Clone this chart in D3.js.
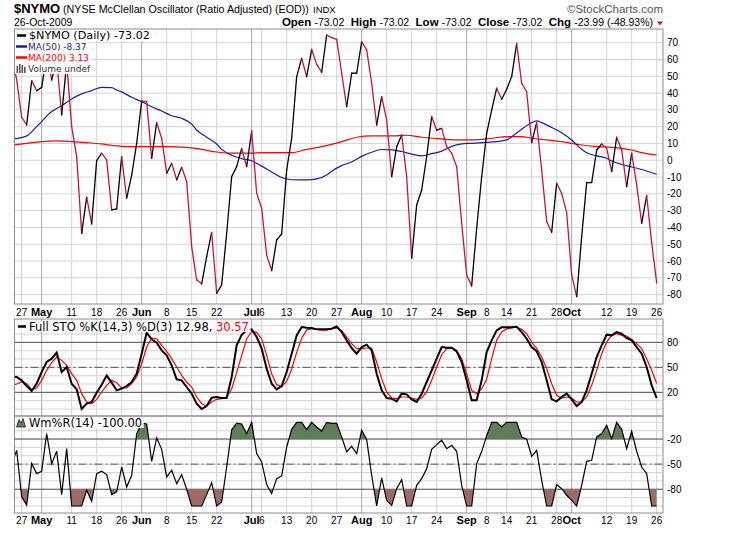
<!DOCTYPE html>
<html>
<head>
<meta charset="utf-8">
<script src="https://cdn.jsdelivr.net/npm/d3@7/dist/d3.min.js"></script>
<style>
body { margin: 0; background: #fff; }
text { font-family: "Liberation Sans", Arial, sans-serif; }
</style>
</head>
<body>
<div id="chart"></div>
<script>
// trading-day index of the first value (0 = 27 Apr 2009)
var firstDay = -2;

var nymo = [62, 48, 25.6, 21, 47.4, 41.4, 43.4, 62, 47.8, 60, 27, 58, 20, 2.1, -43.5, -22, -37.9, -0.2, 4.2, 0.2,
    -29.6, -29, 2.2, -22.6, -8.8, 10.1, 35.3, 34.9, 1.2, 22.4, 13.1, -7.7, -1.8, -11.7, -4.2, -12.7, -51.4, -71.2, -73.6, -57.4,
    -42.9, -79.2, -74.2, -43.5, -9.7, -3.8, 7, -3.8, 17.4, -19.7, -28.6, -56.4, -65.7, -47.4, -43.9, -5.8, 13.1, 49.8, 60.7, 49.8,
    66, 57.1, 52.4, 74.6, 73, 72, 51.8, 31.9, 51.8, 51.8, 70.6, 65.7, 45.8, 21, 37.9, 24, -9.8, 8.1, 15.1, -9.8,
    -58.3, -26.6, -17.7, 2.1, 26, 18, 19, 8.1, 4.2, -3.8, -37.5, -68.3, -74.8, -40.5, -9.8, 16, 29.9, 42.9, 36.3, 42.3,
    49.8, 69.6, 45.8, 40.8, 10.5, 22.4, -5.8, -36.5, -42.9, -13.7, -19.7, -31.2, -68.3, -81.2, -45.5, -13.3, -13.3, 6.1, 9.7, 7.1,
    -6.8, 13.7, 6.1, -15.7, 4.2, -14.7, -37.5, -21, -49.03, -73.02];

var ma50Day = [-2, 1, 3, 6, 8, 10, 12, 14, 16, 18, 19, 20, 22, 24, 26, 28, 30, 32, 34, 35, 37, 39, 40, 42, 44, 46, 48, 50, 52, 54,
    57, 59, 61, 62, 64, 66, 68, 70, 72, 74, 76, 78, 80, 82, 84, 86, 88, 90, 93, 95, 97, 98, 100, 102, 103, 104, 106, 108, 110, 112,
    113, 115, 117, 118, 120, 122, 124, 127];
var ma50 = [12.5, 14.5, 20, 29, 32.5, 36.5, 39.5, 41.5, 43.4, 43.2, 41.8, 40.7, 37.5, 34.9, 31.9, 29.3, 26.5, 25, 21.5, 18,
    13.7, 9.7, 6.5, 3, 1, -0.3, -3.5, -7, -10.3, -11.6, -11.7, -11.1, -8.8, -6.5, -3.2, -1, 2.3, 4.8, 6.4, 6.2,
    5.2, 3.7, 2.6, 3.9, 5.4, 8.3, 9.7, 10.1, 10.7, 11.1, 12.1, 14, 18.5, 22.3, 23.4, 22.4, 19.5, 16.4, 12.1, 6.5,
    4.5, 2.6, 1.2, -0.4, -2.5, -4, -5.5, -8.37];

var ma200Day = [-2, 1, 4, 7, 10, 13, 16, 18, 22, 26, 29, 33, 36, 39, 42, 46, 48, 50, 54, 57, 60, 64, 67, 70, 74, 77, 80, 84, 87, 90,
    94, 97, 100, 102, 105, 108, 112, 115, 118, 122, 124, 127];
var ma200 = [9, 10.1, 11.1, 11.5, 11.1, 10.5, 9.7, 8.9, 8.1, 8.1, 8.1, 7.7, 6.5, 4.9, 4.2, 4.2, 4.6, 4.5, 4.5, 6.5,
    8.1, 11.1, 13.7, 14.5, 14.5, 14.9, 13.7, 12.7, 12.1, 12.1, 13.1, 14.1, 14.1, 13.1, 12.1, 11.1, 9.1, 8.1, 7.7, 6.1,
    4.5, 3.13];

var stoK = [39, 38.4, 34.4, 27.6, 21.6, 30.4, 44.4, 56.4, 60.4, 67.6, 44.4, 50.4, 30.4, 23.6, 0, 6.4, 8.4, 19.6, 29.2, 40.4,
    31.6, 22.4, 24.4, 27.6, 32.4, 42.4, 66.4, 91.6, 83.6, 79.6, 70.4, 64.4, 52.4, 35.6, 34.4, 26.4, 18.4, 6.4, 0, 3.6,
    13.6, 14.4, 13.2, 13.2, 38.4, 76.4, 89, 94.4, 95.6, 86.4, 72.4, 48.4, 30.4, 23.6, 27.6, 44.4, 66.4, 88.4, 98.4, 97.6,
    97.2, 95.6, 95.6, 95.6, 96.4, 99.2, 92.4, 82.4, 73.2, 66.4, 74.4, 77.2, 70.4, 42.4, 22.4, 13.2, 12.4, 9.2, 18.4, 17.6,
    11.6, 8.4, 18.4, 32.4, 46.4, 60.4, 74.4, 73.6, 73.6, 69.2, 56.4, 34.4, 10.4, 10.4, 34.4, 68.4, 82.4, 94.4, 98, 98,
    98, 98.8, 92.4, 84.4, 74.4, 69.2, 56.4, 34.4, 11.6, 9.2, 14.4, 18.4, 11.6, 3.6, 8.4, 22.4, 42.4, 62.4, 76.4, 89.2,
    88.4, 92.4, 90.4, 85.2, 82.4, 74.4, 66.4, 50.4, 28.4, 12.98];

var stoD = [28, 30, 32.4, 30.4, 23.6, 25.2, 34.4, 46.4, 55.6, 62.4, 58.4, 52.4, 42.4, 34.4, 18.4, 8.4, 6.4, 11.6, 20.4, 28.4,
    34.4, 31.6, 25.2, 25.2, 30.4, 38.4, 54.4, 74.4, 85.2, 84.4, 76.4, 69.2, 60.4, 50.4, 40.4, 32.4, 26.4, 14.4, 6.4, 3.6,
    8.4, 11.6, 12.4, 14.4, 24, 44, 64, 84, 93, 92, 84.4, 64.4, 42.4, 29.2, 27, 33, 48, 68, 85, 94.7,
    96.4, 95.6, 94.8, 94.8, 96.4, 97.2, 94.4, 86.4, 78.4, 72.4, 72.4, 73.2, 73.2, 56.4, 36.4, 20.4, 13.2, 12.4, 14.4, 14.4,
    13.2, 11.6, 13.2, 20.4, 34.4, 50.4, 65.2, 72.4, 73.6, 70.4, 60.4, 42.4, 22.4, 18.4, 24, 36, 60.4, 82.4, 92.4, 96.4,
    97.2, 98.4, 95.6, 90.4, 80.4, 72.4, 62.4, 48.4, 30.4, 16.4, 13.2, 14.4, 13.2, 8.4, 8.4, 14.4, 28.4, 46.4, 66.4, 80.4,
    88.4, 90.4, 88.4, 87.6, 83.6, 78.4, 72.4, 60.4, 46.4, 30.57];

var willR = [-50, -33.5, -89, -99, -49.4, -61.3, -58.5, -13.5, -49.4, -34.6, -86.4, -31.5, -100, -100, -100, -81.2, -94.4, -61.3, -58.5, -62.5,
    -86.4, -83.2, -53.4, -77.3, -63.3, -14, -1, -2, -46.6, -18.7, -32.3, -65.3, -57.3, -73.3, -62.5, -80, -100, -100, -100, -86.4,
    -72.1, -100, -95.2, -53.4, -9, -1, -2, -13.5, 0, -37.4, -47.4, -74.5, -85.2, -67.3, -64.1, -29.5, -8.4, 0, 0, -8.8,
    0, -5.6, -10.4, 0, -1.2, -1.2, -17.5, -35.4, -28.7, -37.4, -9.6, -20.7, -63.3, -100, -66.5, -93.2, -99.2, -79.3, -68.5, -100,
    -100, -75.3, -67.3, -55.4, -32.3, -26.7, -21.5, -31.5, -27.5, -34.6, -75.3, -100, -100, -49.4, -35, -16, 0, 0, -5.6, 0,
    0, 0, -17.5, -20.3, -40.6, -33.5, -69.3, -100, -100, -74.5, -79.3, -87.2, -93.2, -100, -75.3, -46.6, -45.4, -17.5, -13.5, -3.6,
    -19.5, 0, -8.4, -31.5, -10.8, -34.6, -53.4, -61.3, -100, -100];

var tickDay = [0, 4, 10, 15, 20, 24, 29, 34, 39, 46, 48, 53, 58, 63, 68, 73, 78, 83, 89, 93, 97, 102, 107, 110, 117, 122, 127];
var tickText = ['27', 'May', '11', '18', '26', 'Jun', '8', '15', '22', 'Jul', '6', '13', '20', '27', 'Aug', '10', '17', '24',
    'Sep', '8', '14', '21', '28', 'Oct', '12', '19', '26'];
var monthNames = ['May', 'Jun', 'Jul', 'Aug', 'Sep', 'Oct'];

var priceTicks = d3.range(-80, 71, 10);
var stoTicks = [80, 50, 20];
var willTicks = [-20, -50, -80];

var svgContainer, x;
var left = 14.5, right = 663;
var upColor = '#000000', downColor = '#cc1040';

function setupSVG () {
    svgContainer = d3.select('#chart').append('svg')
        .attr('width', 738)
        .attr('height', 537);
    x = d3.scaleLinear()
        .domain([tickDay[0], tickDay[tickDay.length - 1]])
        .range([21.67, 656.67]);
}

function addClip (id, top, bottom) {
    svgContainer.append('clipPath').attr('id', id)
        .append('rect')
        .attr('x', left).attr('y', top)
        .attr('width', right - left).attr('height', bottom - top);
}

function drawGrid (top, bottom, y, gridVals) {
    var g = svgContainer.append('g');
    g.selectAll('line.h').data(gridVals).enter().append('line')
        .attr('x1', left).attr('x2', right)
        .attr('y1', function (d) { return y(d); })
        .attr('y2', function (d) { return y(d); })
        .attr('stroke', '#d4d4d4')
        .attr('stroke-width', 1);
    g.selectAll('line.v').data(tickDay).enter().append('line')
        .attr('x1', function (d) { return x(d); })
        .attr('x2', function (d) { return x(d); })
        .attr('y1', top).attr('y2', bottom)
        .attr('stroke', function (d, i) { return monthNames.indexOf(tickText[i]) >= 0 ? '#a8a8a8' : '#d4d4d4'; })
        .attr('stroke-width', 1);
}

function drawFrame (top, bottom) {
    svgContainer.append('rect')
        .attr('x', left).attr('y', top)
        .attr('width', right - left).attr('height', bottom - top)
        .attr('fill', 'none')
        .attr('stroke', '#8c8c8c')
        .attr('stroke-width', 1);
}

function drawRightLabels (y, vals) {
    svgContainer.append('g').selectAll('text').data(vals).enter().append('text')
        .attr('x', 667)
        .attr('y', function (d) { return y(d); })
        .attr('dy', '0.35em')
        .attr('font-size', 10)
        .attr('fill', '#000')
        .text(function (d) { return d; });
}

function drawDateLabels (yPos) {
    svgContainer.append('g').selectAll('text').data(tickDay).enter().append('text')
        .attr('x', function (d) { return x(d); })
        .attr('y', yPos)
        .attr('text-anchor', 'middle')
        .attr('font-size', function (d, i) { return monthNames.indexOf(tickText[i]) >= 0 ? 11 : 10; })
        .attr('font-weight', function (d, i) { return monthNames.indexOf(tickText[i]) >= 0 ? 'bold' : 'normal'; })
        .text(function (d, i) { return tickText[i]; });
}

function legendText (xPos, yPos, size, family, parts) {
    var t = svgContainer.append('text')
        .attr('x', xPos).attr('y', yPos)
        .attr('dy', '0.35em')
        .attr('font-size', size)
        .style('font-family', family);
    parts.forEach(function (p) {
        t.append('tspan').attr('fill', p[1]).text(p[0]);
    });
    var w = t.node().getComputedTextLength();
    svgContainer.insert('rect', function () { return t.node(); })
        .attr('x', left + 0.5).attr('y', yPos - 5.5)
        .attr('width', xPos - left + w + 1).attr('height', 11)
        .attr('fill', '#fff');
    return t;
}

function drawHeader () {
    svgContainer.append('text')
        .attr('x', 14).attr('y', 13)
        .attr('font-size', 13).attr('font-weight', 'bold')
        .text('$NYMO');
    svgContainer.append('text')
        .attr('x', 63).attr('y', 13)
        .attr('font-size', 10.7)
        .text('(NYSE McClellan Oscillator (Ratio Adjusted) (EOD))');
    svgContainer.append('text')
        .attr('x', 313).attr('y', 13)
        .attr('font-size', 9.5)
        .text('INDX');
    svgContainer.append('text')
        .attr('x', 14).attr('y', 26)
        .attr('font-size', 10.5)
        .text('26-Oct-2009');
    svgContainer.append('text')
        .attr('x', 663).attr('y', 12.5)
        .attr('text-anchor', 'end')
        .attr('font-size', 11.5)
        .attr('fill', '#555')
        .text('\u00a9StockCharts.com');

    var quote = [['Open', '-73.02'], ['High', '-73.02'], ['Low', '-73.02'], ['Close', '-73.02'], ['Chg', '-23.99 (-48.93%)']];
    var t = svgContainer.append('text')
        .attr('x', 653).attr('y', 26)
        .attr('text-anchor', 'end')
        .attr('font-size', 10.5)
        .attr('xml:space', 'preserve');
    quote.forEach(function (q, i) {
        t.append('tspan').attr('font-weight', 'bold').attr('font-size', 11.5)
            .text((i ? '  ' : '') + q[0] + ' ');
        t.append('tspan').text(q[1]);
    });
    svgContainer.append('path')
        .attr('d', 'M657,21.5 L663,21.5 L660,25.5 Z')
        .attr('fill', '#cc1040');
}

function drawMain () {
    var top = 29, bottom = 304;
    var y = d3.scaleLinear().domain([-80, 70]).range([294.6, 42.7]);
    drawGrid(top, bottom, y, priceTicks);
    addClip('clipMain', top, bottom);

    var g = svgContainer.append('g').attr('clip-path', 'url(#clipMain)');

    var maLine = d3.line()
        .x(function (d) { return x(d[0]); })
        .y(function (d) { return y(d[1]); })
        .curve(d3.curveMonotoneX);
    g.append('path')
        .attr('d', maLine(d3.zip(ma200Day, ma200)))
        .attr('fill', 'none')
        .attr('stroke', '#ff0000')
        .attr('stroke-width', 1.2);
    g.append('path')
        .attr('d', maLine(d3.zip(ma50Day, ma50)))
        .attr('fill', 'none')
        .attr('stroke', '#1c1ca0')
        .attr('stroke-width', 1.2);

    // up days black, down days red
    var pts = nymo.map(function (v, i) { return [firstDay + i, v]; });
    g.selectAll('line.seg').data(d3.pairs(pts)).enter().append('line')
        .attr('x1', function (p) { return x(p[0][0]); })
        .attr('y1', function (p) { return y(p[0][1]); })
        .attr('x2', function (p) { return x(p[1][0]); })
        .attr('y2', function (p) { return y(p[1][1]); })
        .attr('stroke', function (p) { return p[1][1] >= p[0][1] ? upColor : downColor; })
        .attr('stroke-width', 1.3)
        .attr('stroke-linecap', 'round');

    drawRightLabels(y, priceTicks);

    legendText(29, 35.5, 11.2, 'DejaVu Sans', [['$NYMO (Daily) -73.02', '#000']]);
    legendText(28, 46.5, 9, 'DejaVu Sans', [['MA(50) -8.37', '#1c1ca0']]);
    legendText(28, 57.5, 9, 'DejaVu Sans', [['MA(200) 3.13', '#ff0000']]);
    legendText(28, 68.5, 9, 'DejaVu Sans', [['Volume undef', '#333']]);
    svgContainer.append('line').attr('x1', 17).attr('x2', 26).attr('y1', 35.5).attr('y2', 35.5)
        .attr('stroke', '#000').attr('stroke-width', 2.5);
    svgContainer.append('line').attr('x1', 16).attr('x2', 27).attr('y1', 46.5).attr('y2', 46.5)
        .attr('stroke', '#1c1ca0').attr('stroke-width', 2.5);
    svgContainer.append('line').attr('x1', 16).attr('x2', 27).attr('y1', 57.5).attr('y2', 57.5)
        .attr('stroke', '#ff0000').attr('stroke-width', 2.5);
    [[16.5, 66], [19, 64], [21.5, 65], [24, 67]].forEach(function (b) {
        svgContainer.append('rect').attr('x', b[0]).attr('y', b[1])
            .attr('width', 1.6).attr('height', 73 - b[1]).attr('fill', '#555');
    });

    drawFrame(top, bottom);
}

function drawSto () {
    var top = 319, bottom = 416;
    var y = d3.scaleLinear().domain([0, 100]).range([409, 325.7]);
    drawGrid(top, bottom, y, d3.range(0, 101, 10));
    svgContainer.append('g').selectAll('line').data(stoTicks).enter().append('line')
        .attr('x1', left).attr('x2', right)
        .attr('y1', function (d) { return y(d); })
        .attr('y2', function (d) { return y(d); })
        .attr('stroke', '#555')
        .attr('stroke-dasharray', function (d) { return d === 50 ? '8,3,2,3' : null; });
    addClip('clipSto', top, bottom);

    var g = svgContainer.append('g').attr('clip-path', 'url(#clipSto)');
    var line = d3.line()
        .x(function (d, i) { return x(firstDay + i); })
        .y(function (d) { return y(d); });
    g.append('path')
        .attr('d', line(stoD))
        .attr('fill', 'none')
        .attr('stroke', '#ff0000')
        .attr('stroke-width', 1.2);
    g.append('path')
        .attr('d', line(stoK))
        .attr('fill', 'none')
        .attr('stroke', '#000')
        .attr('stroke-width', 2);

    drawRightLabels(y, stoTicks);
    legendText(29, 326.5, 11.5, 'DejaVu Sans', [['Full STO %K(14,3) %D(3) 12.98, ', '#000'], ['30.57', '#ff0000']]);
    svgContainer.append('line').attr('x1', 18).attr('x2', 26).attr('y1', 326.5).attr('y2', 326.5)
        .attr('stroke', '#000').attr('stroke-width', 2.5);
    drawFrame(top, bottom);
}

function drawWill () {
    var top = 416, bottom = 513;
    var y = d3.scaleLinear().domain([-100, 0]).range([506, 422.3]);
    drawGrid(top, bottom, y, d3.range(-100, 1, 10));
    svgContainer.append('g').selectAll('line').data(willTicks).enter().append('line')
        .attr('x1', left).attr('x2', right)
        .attr('y1', function (d) { return y(d); })
        .attr('y2', function (d) { return y(d); })
        .attr('stroke', '#555')
        .attr('stroke-dasharray', function (d) { return d === -50 ? '8,3,2,3' : null; });

    // fills only above -20 and below -80
    svgContainer.append('clipPath').attr('id', 'clipHigh')
        .append('rect').attr('x', left).attr('y', top)
        .attr('width', right - left).attr('height', y(-20) - top);
    svgContainer.append('clipPath').attr('id', 'clipLow')
        .append('rect').attr('x', left).attr('y', y(-80))
        .attr('width', right - left).attr('height', bottom - y(-80));
    addClip('clipWill', top, bottom);

    var fx = function (d, i) { return x(firstDay + i); };
    svgContainer.append('path')
        .attr('clip-path', 'url(#clipHigh)')
        .attr('d', d3.area().x(fx).y0(y(-20)).y1(function (d) { return y(d); })(willR))
        .attr('fill', '#5e7d58');
    svgContainer.append('path')
        .attr('clip-path', 'url(#clipLow)')
        .attr('d', d3.area().x(fx).y0(y(-80)).y1(function (d) { return y(d); })(willR))
        .attr('fill', '#9b6c67');
    svgContainer.append('path')
        .attr('clip-path', 'url(#clipWill)')
        .attr('d', d3.line().x(fx).y(function (d) { return y(d); })(willR))
        .attr('fill', 'none')
        .attr('stroke', '#000')
        .attr('stroke-width', 1.2);

    drawRightLabels(y, willTicks);
    legendText(29, 422.5, 11.5, 'DejaVu Sans', [['Wm%R(14) -100.00', '#000']]);
    svgContainer.append('path')
        .attr('d', 'M16.5,427 L19,419.5 L21,423 L23,418.5 L25.5,427 Z')
        .attr('fill', '#5e7d58')
        .attr('stroke', '#222')
        .attr('stroke-width', 0.8);
    drawFrame(top, bottom);
}

setupSVG();
drawHeader();
drawMain();
drawDateLabels(315.5);
drawSto();
drawWill();
drawDateLabels(524);
</script>
</body>
</html>
